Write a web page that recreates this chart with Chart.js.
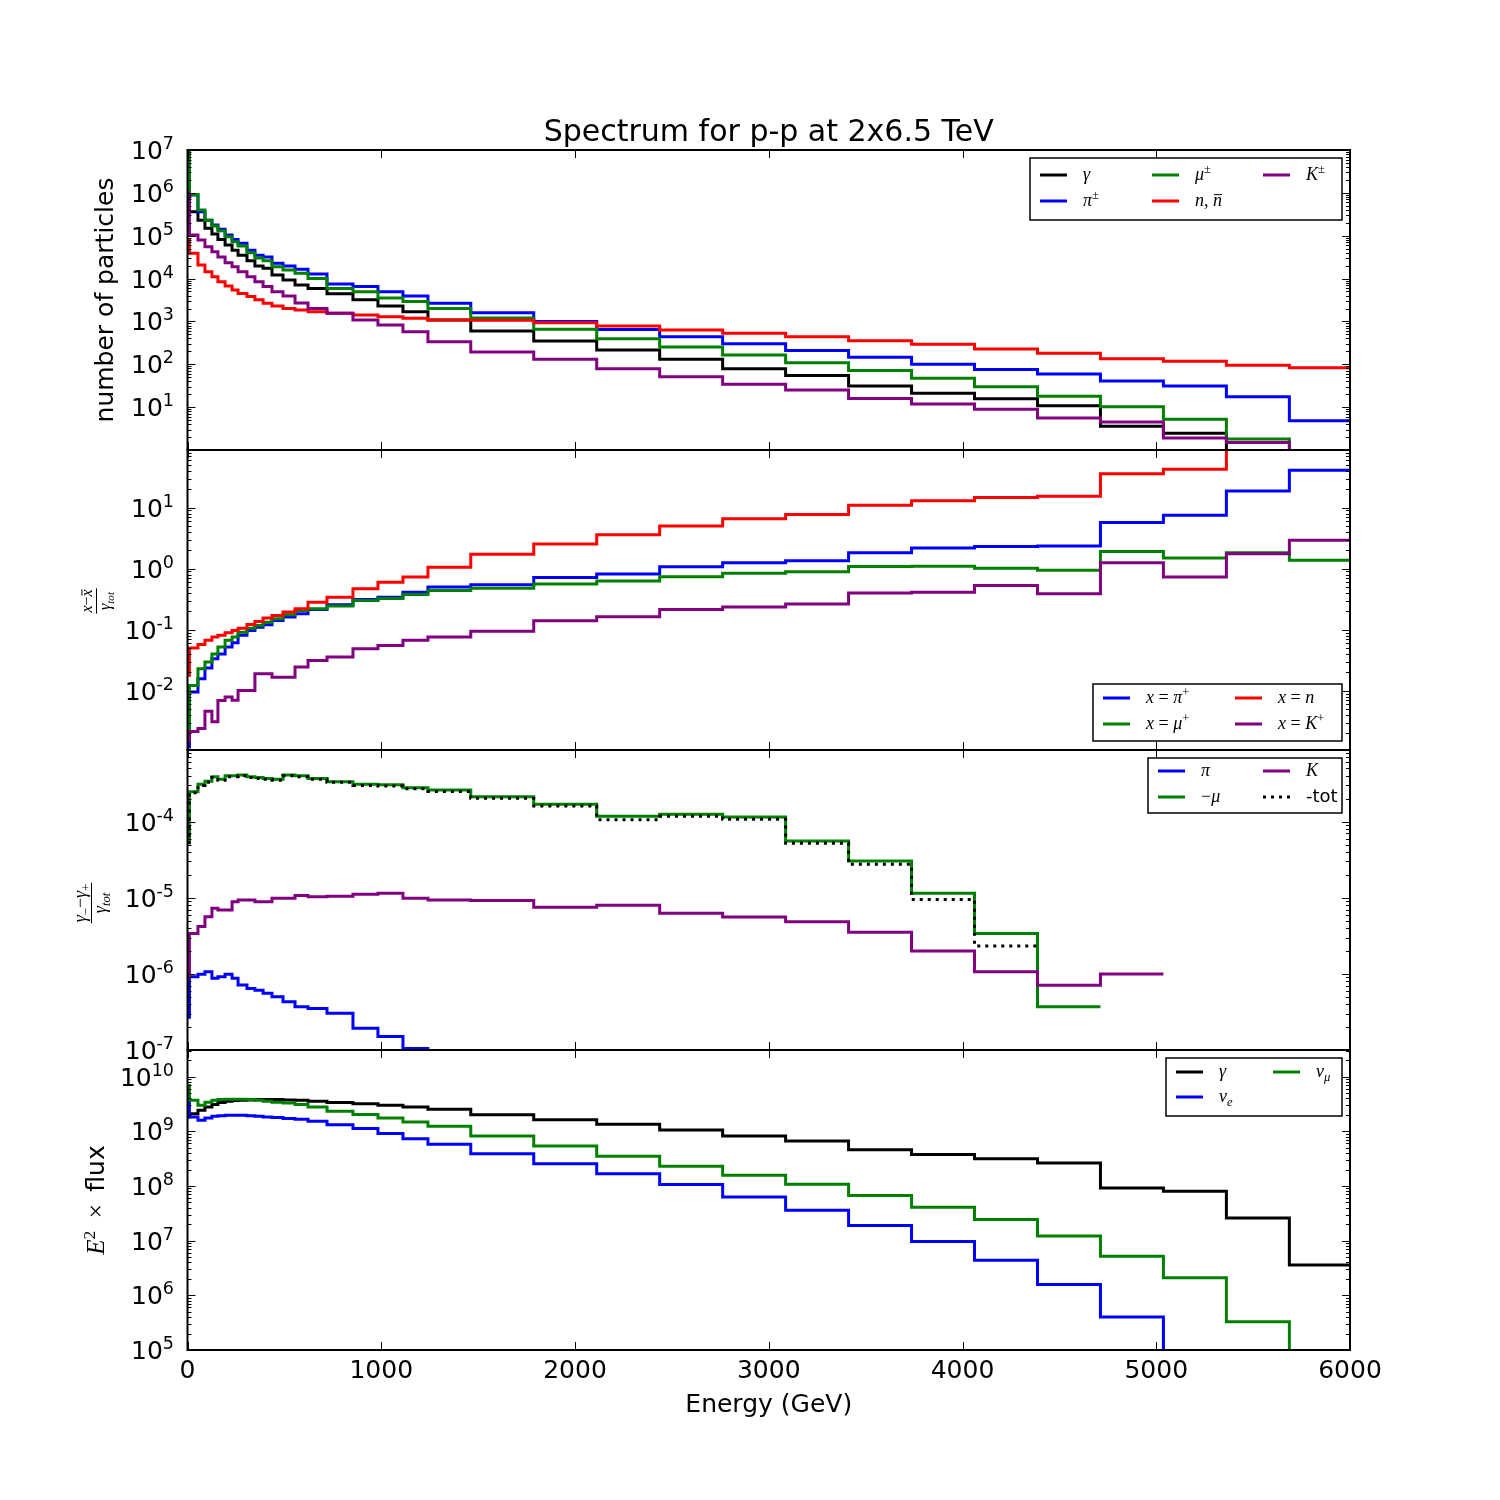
<!DOCTYPE html>
<html>
<head>
<meta charset="utf-8">
<title>Spectrum for p-p at 2x6.5 TeV</title>
<script src="https://cdn.jsdelivr.net/npm/chart.js@4.4.1/dist/chart.umd.min.js"></script>
<style>
  html, body { margin: 0; padding: 0; background: #fff; }
  #figure { position: relative; width: 1500px; height: 1500px; }
  #figure canvas { position: absolute; left: 0; top: 0; }
</style>
</head>
<body>
<div id="figure">
  <canvas id="counts" width="1500" height="1500"></canvas>
  <canvas id="ratios" width="1500" height="1500"></canvas>
  <canvas id="asym" width="1500" height="1500"></canvas>
  <canvas id="flux" width="1500" height="1500"></canvas>
</div>
<script>
// bin edges in GeV: fine bins at low energy, 325 GeV wide above ~1.5 TeV
const energyEdges = [0, 10, 54, 90, 126, 157, 194, 230, 261, 307, 348, 390, 436, 493, 555, 622, 720, 854, 983, 1112, 1241,
  1462, 1787, 2112, 2437, 2762, 3087, 3412, 3737, 4062, 4387, 4712, 5037, 5362, 5687, 6012];
const energyTicks = [0, 1000, 2000, 3000, 4000, 5000, 6000];

// panel 1 - number of particles
const gammaCounts = [1.0e7, 3.6e5, 2.3e5, 1.49e5, 1.10e5, 8.2e4, 6.1e4, 4.6e4, 3.5e4, 2.6e4, 1.96e4, 1.73e4, 1.21e4, 9.3e3, 7.1e3, 5.9e3, 4.4e3, 3.2e3, 2.3e3, 1.69e3, 1.08e3,
  600, 350, 215, 131, 79, 55, 31, 21, 15.7, 10.8, 3.6, 2.45, 0.01, 0.01];
const pionCounts = [1.2e7, 8.9e5, 3.6e5, 2.3e5, 1.78e5, 1.41e5, 1.04e5, 8.2e4, 6.7e4, 4.6e4, 3.5e4, 3.2e4, 2.27e4, 1.96e4, 1.64e4, 1.28e4, 7.5e3, 6.5e3, 4.9e3, 3.9e3, 2.65e3,
  1600, 1000, 650, 440, 300, 210, 145, 100, 76, 59, 41, 31, 17.5, 4.8];
const muonCounts = [1.5e7, 9.2e5, 4.0e5, 2.3e5, 1.68e5, 1.31e5, 9.5e4, 7.2e4, 5.75e4, 4.0e4, 3.0e4, 2.6e4, 1.89e4, 1.58e4, 1.33e4, 1.01e4, 5.9e3, 4.9e3, 3.5e3, 2.9e3, 2.0e3,
  1200, 655, 395, 253, 165, 109, 72, 47, 30, 18, 10.2, 5.2, 1.8, 0.01];
const neutronCounts = [7.9e4, 3.9e4, 2.07e4, 1.45e4, 1.10e4, 8.4e3, 6.7e3, 5.4e3, 4.5e3, 3.8e3, 3.2e3, 2.65e3, 2.3e3, 2.0e3, 1.85e3, 1.69e3, 1.55e3, 1.41e3, 1.29e3, 1.18e3, 1.08e3,
  1060, 930, 780, 630, 530, 440, 355, 292, 227, 180, 135, 117, 95, 83];
const kaonCounts = [1.0e6, 1.04e5, 7.9e4, 5.5e4, 4.2e4, 3.2e4, 2.35e4, 1.89e4, 1.45e4, 1.10e4, 8.4e3, 6.5e3, 4.9e3, 3.9e3, 2.7e3, 2.0e3, 1.55e3, 1.08e3, 830, 575, 337,
  194, 131, 79, 51, 34, 25, 16, 11.8, 8.9, 5.6, 4.5, 1.9, 1.5, 0.01];

// panel 2 - (x - xbar) / gamma_tot
const pionRatio = [0.0012, 0.0095, 0.0158, 0.0235, 0.0335, 0.040, 0.052, 0.061, 0.081, 0.097, 0.110, 0.121, 0.142, 0.161, 0.183, 0.215, 0.257, 0.314, 0.342, 0.413, 0.50,
  0.547, 0.72, 0.82, 1.08, 1.25, 1.35, 1.83, 2.18, 2.32, 2.35, 5.7, 7.5, 18.7, 40.9];
const muonRatio = [0.002, 0.0122, 0.023, 0.0295, 0.040, 0.052, 0.067, 0.076, 0.091, 0.106, 0.117, 0.133, 0.151, 0.176, 0.207, 0.22, 0.245, 0.30, 0.325, 0.379, 0.44,
  0.48, 0.56, 0.63, 0.74, 0.84, 0.89, 1.09, 1.10, 1.02, 0.94, 1.92, 1.49, 1.83, 1.37];
const neutronRatio = [0.018, 0.05, 0.057, 0.067, 0.076, 0.081, 0.089, 0.097, 0.106, 0.122, 0.137, 0.155, 0.171, 0.195, 0.22, 0.283, 0.342, 0.47, 0.60, 0.73, 1.06,
  1.72, 2.53, 3.6, 5.0, 6.6, 7.7, 10.9, 13.0, 14.6, 15.3, 36, 42.5, 500, 500];
const kaonRatio = [0.0015, 0.00215, 0.0024, 0.0046, 0.0031, 0.0069, 0.0079, 0.0070, 0.0101, 0.0101, 0.019, 0.019, 0.0167, 0.0167, 0.0244, 0.0314, 0.0356, 0.049, 0.055, 0.067, 0.076,
  0.094, 0.14, 0.163, 0.215, 0.235, 0.263, 0.40, 0.41, 0.53, 0.39, 1.25, 0.73, 1.76, 2.91];

// panel 3 - (gamma_- - gamma_+) / gamma_tot
const pionAsym = [2.7e-7, 9.2e-7, 9.9e-7, 1.07e-6, 8.75e-7, 9.2e-7, 9.9e-7, 8.75e-7, 7.15e-7, 6.45e-7, 6.1e-7, 5.55e-7, 5.0e-7, 4.3e-7, 3.7e-7, 3.5e-7, 3.03e-7, 1.93e-7, 1.5e-7, 1.05e-7, 6e-8,
  null, null, null, null, null, null, null, null, null, null, null, null, null, null];
const muonAsym = [5.5e-5, 2.48e-4, 3.1e-4, 3.4e-4, 3.9e-4, 3.6e-4, 4.0e-4, 4.0e-4, 4.1e-4, 3.9e-4, 3.8e-4, 3.7e-4, 3.6e-4, 4.1e-4, 4.0e-4, 3.7e-4, 3.36e-4, 3.1e-4, 3.05e-4, 2.8e-4, 2.6e-4,
  2.13e-4, 1.69e-4, 1.18e-4, 1.25e-4, 1.15e-4, 5.57e-5, 3.05e-5, 1.15e-5, 3.4e-6, 3.7e-7, null, null, null, null];
const kaonAsym = [9e-7, 3.4e-6, 4.2e-6, 5.65e-6, 7.3e-6, 6.9e-6, 6.9e-6, 8.9e-6, 9.35e-6, 9.35e-6, 8.9e-6, 8.9e-6, 9.85e-6, 9.85e-6, 1.07e-5, 1.03e-5, 1.05e-5, 1.11e-5, 1.15e-5, 9.85e-6, 9.35e-6,
  9.2e-6, 7.5e-6, 8.0e-6, 6.25e-6, 5.6e-6, 4.85e-6, 3.52e-6, 2.0e-6, 1.07e-6, 7.1e-7, 1.0e-6, null, null, null];
const totAsym = [5.3e-5, 2.4e-4, 3.0e-4, 3.3e-4, 3.8e-4, 3.5e-4, 3.9e-4, 3.9e-4, 4.0e-4, 3.8e-4, 3.7e-4, 3.6e-4, 3.5e-4, 4.0e-4, 3.9e-4, 3.6e-4, 3.3e-4, 3.0e-4, 2.95e-4, 2.7e-4, 2.5e-4,
  2.03e-4, 1.61e-4, 1.06e-4, 1.18e-4, 1.08e-4, 5.2e-5, 2.75e-5, 9.5e-6, 2.33e-6, null, null, null, null, null];

// panel 4 - E^2 x flux
const gammaFlux = [1.83e9, 2.1e9, 2.42e9, 2.79e9, 3.08e9, 3.35e9, 3.54e9, 3.65e9, 3.7e9, 3.75e9, 3.8e9, 3.8e9, 3.8e9, 3.75e9, 3.7e9, 3.54e9, 3.35e9, 3.2e9, 3.0e9, 2.79e9, 2.52e9,
  2.0e9, 1.62e9, 1.35e9, 1.06e9, 8.2e8, 6.65e8, 4.6e8, 3.75e8, 3.16e8, 2.63e8, 9.2e7, 8.0e7, 2.6e7, 3.6e6];
const nueFlux = [3.4e9, 1.83e9, 1.59e9, 1.75e9, 1.88e9, 1.92e9, 1.96e9, 1.96e9, 1.96e9, 1.92e9, 1.88e9, 1.83e9, 1.78e9, 1.71e9, 1.66e9, 1.52e9, 1.32e9, 1.12e9, 9.1e8, 7.3e8, 5.8e8,
  3.9e8, 2.56e8, 1.68e8, 1.06e8, 6.3e7, 3.6e7, 1.9e7, 9.7e6, 4.4e6, 1.58e6, 4.0e5, 1e3, null, null];
const numuFlux = [6.9e9, 3.7e9, 3.0e9, 3.4e9, 3.7e9, 3.8e9, 3.85e9, 3.85e9, 3.85e9, 3.8e9, 3.7e9, 3.55e9, 3.4e9, 3.3e9, 3.08e9, 2.79e9, 2.32e9, 2.02e9, 1.75e9, 1.48e9, 1.24e9,
  8.2e8, 5.4e8, 3.5e8, 2.3e8, 1.57e8, 1.07e8, 6.7e7, 4.1e7, 2.45e7, 1.22e7, 5.2e6, 2.1e6, 3.3e5, 1e3];

// decades that get a tick label
const countExps = [1, 2, 3, 4, 5, 6, 7];
const ratioExps = [-2, -1, 0, 1];
const asymExps = [-7, -6, -5, -4];
const fluxExps = [5, 6, 7, 8, 9, 10];

const SANS = '"DejaVu Sans", sans-serif';
const MATH = '"Liberation Serif", "DejaVu Serif", serif';
const BLACK = '#000000', BLUE = '#0000ff', GREEN = '#008000', RED = '#ff0000', PURPLE = '#800080';
const plotLeft = 187.5, plotRight = 1350, panelH = 300;

function histPoints(vals) {
  const pts = [];
  vals.forEach((v, i) => {
    if (v === null) { pts.push({x: energyEdges[i], y: null}); return; }
    pts.push({x: energyEdges[i], y: v});
    pts.push({x: energyEdges[i + 1], y: v});
  });
  return pts;
}

// small mathtext-ish text: italic serif letters, sup/sub, overline
function drawRich(ctx, segs, x, y, size, align) {
  const parts = segs.map(s => {
    const fs = (s.sup || s.sub) ? size * 0.7 : size;
    const font = s.sans ? fs + 'px ' + SANS : (s.up ? '' : 'italic ') + fs + 'px ' + MATH;
    ctx.font = font;
    return {s, font, w: ctx.measureText(s.t).width, dy: s.sup ? -size * 0.38 : (s.sub ? size * 0.22 : 0)};
  });
  const total = parts.reduce((a, p) => a + p.w, 0);
  let cx = align === 'center' ? x - total / 2 : x;
  ctx.textAlign = 'left';
  ctx.textBaseline = 'alphabetic';
  parts.forEach(p => {
    ctx.font = p.font;
    ctx.fillText(p.s.t, cx, y + p.dy);
    if (p.s.over) ctx.fillRect(cx + 1, y - size * 0.66, p.w - 1, 1);
    cx += p.w;
  });
  return total;
}

function drawPow(ctx, e, xr, y) {
  const ex = e < 0 ? '-' + (-e) : String(e);
  ctx.textAlign = 'left';
  ctx.textBaseline = 'alphabetic';
  ctx.font = '25px ' + SANS;
  const wb = ctx.measureText('10').width;
  ctx.font = '17.5px ' + SANS;
  const we = ctx.measureText(ex).width;
  ctx.font = '25px ' + SANS;
  ctx.fillText('10', xr - we - wb, y + 9);
  ctx.font = '17.5px ' + SANS;
  ctx.fillText(ex, xr - we, y - 1);
}

function drawLegend(ctx, series, lg) {
  const [x1, y1, x2, y2] = lg.box;
  ctx.fillStyle = '#fff';
  ctx.fillRect(x1, y1, x2 - x1, y2 - y1);
  ctx.strokeStyle = '#000';
  ctx.lineWidth = 1.5;
  ctx.strokeRect(x1, y1, x2 - x1, y2 - y1);
  series.forEach(s => {
    const lx = lg.cols[s.slot[0]], ly = lg.rows[s.slot[1]];
    ctx.beginPath();
    ctx.strokeStyle = s.color;
    ctx.lineWidth = 3;
    ctx.setLineDash(s.dash || []);
    ctx.moveTo(lx, ly);
    ctx.lineTo(lx + 27, ly);
    ctx.stroke();
    ctx.setLineDash([]);
    ctx.fillStyle = '#000';
    drawRich(ctx, s.label, lx + 43, ly + 5, 18, 'left');
  });
}

function decorPlugin(cfg) {
  return {
    id: 'decor_' + cfg.id,
    afterDatasetsDraw(chart) {
      const ctx = chart.ctx;
      const xs = chart.scales.x, ys = chart.scales.y;
      const {left, right, top, bottom} = chart.chartArea;
      ctx.save();
      ctx.strokeStyle = '#000';
      ctx.lineWidth = 1;
      ctx.beginPath();
      const lo = Math.floor(Math.log10(ys.min)), hi = Math.ceil(Math.log10(ys.max));
      for (let k = lo; k <= hi; k++) {
        for (let m = 1; m < 10; m++) {
          const v = m * Math.pow(10, k);
          if (v < ys.min * 0.9999 || v > ys.max * 1.0001) continue;
          const py = Math.round(ys.getPixelForValue(v)) + 0.5;
          const len = m === 1 ? 8 : 4;
          ctx.moveTo(left, py); ctx.lineTo(left + len, py);
          ctx.moveTo(right, py); ctx.lineTo(right - len, py);
        }
      }
      energyTicks.forEach(t => {
        const px = Math.round(xs.getPixelForValue(t)) + 0.5;
        ctx.moveTo(px, top); ctx.lineTo(px, top + 8);
        ctx.moveTo(px, bottom); ctx.lineTo(px, bottom - 8);
      });
      ctx.stroke();
      ctx.lineWidth = 2;
      ctx.strokeRect(left, top, right - left, bottom - top);
      ctx.fillStyle = '#000';
      cfg.exps.forEach(e => drawPow(ctx, e, 174, ys.getPixelForValue(Math.pow(10, e))));
      drawLegend(ctx, cfg.series, cfg.legend);
      ctx.fillStyle = '#000';
      cfg.ylabel(ctx);
      if (cfg.extra) cfg.extra(ctx, xs);
      ctx.restore();
    }
  };
}

function makePanel(cfg) {
  const top = 150 + cfg.index * panelH;
  const n = cfg.series.length;
  return new Chart(document.getElementById(cfg.id), {
    type: 'line',
    data: {
      datasets: cfg.series.map((s, i) => ({
        label: s.name,
        data: histPoints(s.values),
        borderColor: s.color,
        borderWidth: 3,
        borderDash: s.dash || [],
        borderCapStyle: 'butt',
        pointRadius: 0,
        fill: false,
        tension: 0,
        spanGaps: false,
        clip: 0,
        order: n - i
      }))
    },
    options: {
      responsive: false,
      animation: false,
      events: [],
      layout: {padding: {left: plotLeft, right: 1500 - plotRight, top: top, bottom: 1500 - top - panelH}},
      scales: {
        x: {type: 'linear', min: 0, max: 6000, display: false},
        y: {type: 'logarithmic', min: cfg.range[0], max: cfg.range[1], display: false}
      },
      plugins: {legend: {display: false}, tooltip: {enabled: false}}
    },
    plugins: [decorPlugin(cfg)]
  });
}

makePanel({
  id: 'counts', index: 0, range: [1, 1e7], exps: countExps,
  series: [
    {name: 'gamma', values: gammaCounts, color: BLACK, label: [{t: 'γ'}], slot: [0, 0]},
    {name: 'pi', values: pionCounts, color: BLUE, label: [{t: 'π'}, {t: '±', sup: 1, up: 1}], slot: [0, 1]},
    {name: 'mu', values: muonCounts, color: GREEN, label: [{t: 'μ'}, {t: '±', sup: 1, up: 1}], slot: [1, 0]},
    {name: 'n', values: neutronCounts, color: RED, label: [{t: 'n'}, {t: ', ', up: 1}, {t: 'n', over: 1}], slot: [1, 1]},
    {name: 'K', values: kaonCounts, color: PURPLE, label: [{t: 'K'}, {t: '±', sup: 1, up: 1}], slot: [2, 0]}
  ],
  legend: {box: [1030, 158, 1342, 220], cols: [1040, 1152, 1263], rows: [175, 201]},
  ylabel: ctx => {
    ctx.save();
    ctx.translate(113, 300);
    ctx.rotate(-Math.PI / 2);
    ctx.font = '25px ' + SANS;
    ctx.textAlign = 'center';
    ctx.textBaseline = 'alphabetic';
    ctx.fillText('number of particles', 0, 0);
    ctx.restore();
  },
  extra: ctx => {
    ctx.font = '30px ' + SANS;
    ctx.textAlign = 'center';
    ctx.textBaseline = 'alphabetic';
    ctx.fillText('Spectrum for p-p at 2x6.5 TeV', (plotLeft + plotRight) / 2, 141);
  }
});

makePanel({
  id: 'ratios', index: 1, range: [1.07e-3, 88], exps: ratioExps,
  series: [
    {name: 'pi+', values: pionRatio, color: BLUE, label: [{t: 'x'}, {t: ' = ', up: 1}, {t: 'π'}, {t: '+', sup: 1, up: 1}], slot: [0, 0]},
    {name: 'mu+', values: muonRatio, color: GREEN, label: [{t: 'x'}, {t: ' = ', up: 1}, {t: 'μ'}, {t: '+', sup: 1, up: 1}], slot: [0, 1]},
    {name: 'n', values: neutronRatio, color: RED, label: [{t: 'x'}, {t: ' = ', up: 1}, {t: 'n'}], slot: [1, 0]},
    {name: 'K+', values: kaonRatio, color: PURPLE, label: [{t: 'x'}, {t: ' = ', up: 1}, {t: 'K'}, {t: '+', sup: 1, up: 1}], slot: [1, 1]}
  ],
  legend: {box: [1093, 684, 1342, 741], cols: [1103, 1235], rows: [698, 724]},
  ylabel: ctx => {
    ctx.save();
    ctx.translate(97, 601);
    ctx.rotate(-Math.PI / 2);
    const w1 = drawRich(ctx, [{t: 'x'}, {t: '−', up: 1}, {t: 'x', over: 1}], 0, -5, 16, 'center');
    const w2 = drawRich(ctx, [{t: 'γ'}, {t: 'tot', sub: 1}], 0, 13, 16, 'center');
    const w = Math.max(w1, w2) + 2;
    ctx.fillRect(-w / 2, -1, w, 1);
    ctx.restore();
  }
});

makePanel({
  id: 'asym', index: 2, range: [1e-7, 8.75e-4], exps: asymExps,
  series: [
    {name: 'pi', values: pionAsym, color: BLUE, label: [{t: 'π'}], slot: [0, 0]},
    {name: '-mu', values: muonAsym, color: GREEN, label: [{t: '−', up: 1}, {t: 'μ'}], slot: [0, 1]},
    {name: 'K', values: kaonAsym, color: PURPLE, label: [{t: 'K'}], slot: [1, 0]},
    {name: '-tot', values: totAsym, color: BLACK, dash: [3, 5], label: [{t: '-tot', sans: 1}], slot: [1, 1]}
  ],
  legend: {box: [1148, 758, 1342, 813], cols: [1158, 1263], rows: [771, 797]},
  ylabel: ctx => {
    ctx.save();
    ctx.translate(92, 903);
    ctx.rotate(-Math.PI / 2);
    const w1 = drawRich(ctx, [{t: 'γ'}, {t: '−', sub: 1, up: 1}, {t: '−', up: 1}, {t: 'γ'}, {t: '+', sub: 1, up: 1}], 0, -6, 18, 'center');
    const w2 = drawRich(ctx, [{t: 'γ'}, {t: 'tot', sub: 1}], 0, 14, 18, 'center');
    const w = Math.max(w1, w2) + 2;
    ctx.fillRect(-w / 2, -1, w, 1);
    ctx.restore();
  }
});

makePanel({
  id: 'flux', index: 3, range: [1e5, 3.07e10], exps: fluxExps,
  series: [
    {name: 'gamma', values: gammaFlux, color: BLACK, label: [{t: 'γ'}], slot: [0, 0]},
    {name: 'nu_e', values: nueFlux, color: BLUE, label: [{t: 'ν'}, {t: 'e', sub: 1}], slot: [0, 1]},
    {name: 'nu_mu', values: numuFlux, color: GREEN, label: [{t: 'ν'}, {t: 'μ', sub: 1}], slot: [1, 0]}
  ],
  legend: {box: [1166, 1058, 1342, 1116], cols: [1176, 1273], rows: [1072, 1097]},
  ylabel: ctx => {
    ctx.save();
    ctx.translate(104, 1200);
    ctx.rotate(-Math.PI / 2);
    drawRich(ctx, [{t: 'E'}, {t: '2', sup: 1, up: 1}, {t: '  ×  ', up: 1}, {t: 'flux', sans: 1}], 0, 0, 25, 'center');
    ctx.restore();
  },
  extra: (ctx, xs) => {
    ctx.font = '25px ' + SANS;
    ctx.textAlign = 'center';
    ctx.textBaseline = 'alphabetic';
    energyTicks.forEach(t => ctx.fillText(String(t), xs.getPixelForValue(t), 1378));
    ctx.fillText('Energy (GeV)', (plotLeft + plotRight) / 2, 1412);
  }
});
</script>
</body>
</html>
